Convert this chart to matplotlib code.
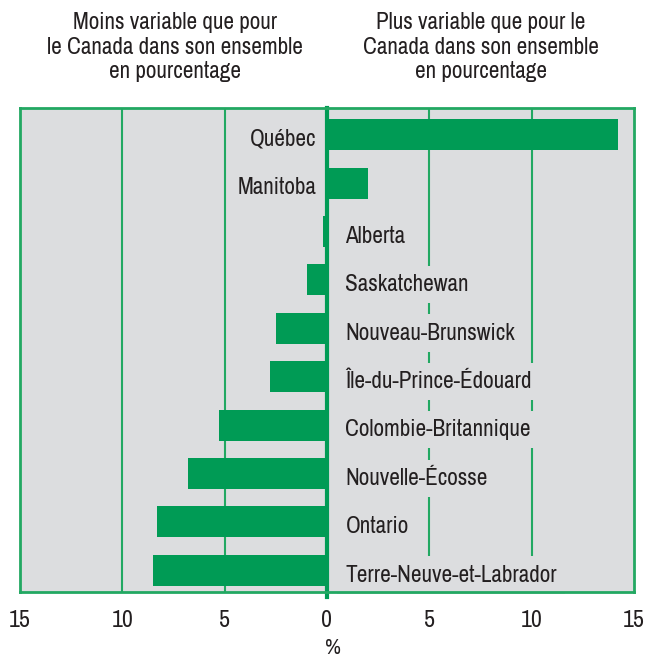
import matplotlib
matplotlib.use("Agg")
import matplotlib.pyplot as plt
from matplotlib import font_manager
import numpy as np

# pick a narrow/condensed family if the system has one
narrow = None
for f in font_manager.fontManager.ttflist:
    n = f.name
    if ("Narrow" in n or "Condensed" in n) and "Mono" not in n and "Serif" not in n:
        narrow = n
        break
fam = [narrow, "DejaVu Sans"] if narrow else ["DejaVu Sans"]
plt.rcParams['font.family'] = fam
fs = 16.7 if narrow else 12.5

provinces = ["Québec", "Manitoba", "Alberta", "Saskatchewan", "Nouveau-Brunswick",
             "Île-du-Prince-Édouard", "Colombie-Britannique", "Nouvelle-Écosse",
             "Ontario", "Terre-Neuve-et-Labrador"]
values = [14.2, 2.0, -0.2, -1.0, -2.5, -2.8, -5.3, -6.8, -8.3, -8.5]
ticks = [-15, -10, -5, 0, 5, 10, 15]
tick_labels = ["15", "10", "5", "0", "5", "10", "15"]

bar_green = "#009B55"
line_green = "#22A862"
bg = "#DCDDDF"
txt = "#231F20"

fig = plt.figure(figsize=(6.48, 6.58), dpi=100)
ax = fig.add_axes([20 / 648, 66 / 658, 614 / 648, 484 / 658])
ax.set_facecolor(bg)

y = np.arange(len(provinces))
ax.barh(y, values, height=0.64, color=bar_green, zorder=3)

for g in [-10, -5, 5, 10]:
    ax.axvline(g, color=line_green, lw=1.5, zorder=1)
ax.axvline(0, color=bar_green, lw=3, zorder=4, ymin=-0.01, clip_on=False)

for yi, name, v in zip(y, provinces, values):
    if v >= 0:
        ax.text(-0.5, yi + 0.1, name, ha="right", va="center", fontsize=fs,
                color=txt, zorder=2,
                bbox=dict(boxstyle="square,pad=0.35", fc=bg, ec="none"))
    else:
        ax.text(0.9, yi + 0.1, name, ha="left", va="center", fontsize=fs,
                color=txt, zorder=2,
                bbox=dict(boxstyle="square,pad=0.35", fc=bg, ec="none"))

ax.set_xlim(-15, 15)
ax.set_ylim(9.45, -0.55)
ax.set_yticks([])
ax.set_xticks(ticks)
ax.set_xticklabels(tick_labels, fontsize=fs + 0.5, color=txt)
ax.tick_params(axis="x", length=0, pad=13)
for s in ax.spines.values():
    s.set_color(line_green)
    s.set_linewidth(2)
    s.set_zorder(5)

fig.text(333 / 648, 1 - 648 / 658, "%", ha="center", va="center",
         fontsize=fs - 1, color=txt)

fig.text(175 / 648, 1 - 47 / 658,
         "Moins variable que pour\nle Canada dans son ensemble\nen pourcentage",
         ha="center", va="center", fontsize=fs, color=txt, linespacing=1.22)
fig.text(481 / 648, 1 - 47 / 658,
         "Plus variable que pour le\nCanada dans son ensemble\nen pourcentage",
         ha="center", va="center", fontsize=fs, color=txt, linespacing=1.22)

fig.savefig("out.png", dpi=100)
